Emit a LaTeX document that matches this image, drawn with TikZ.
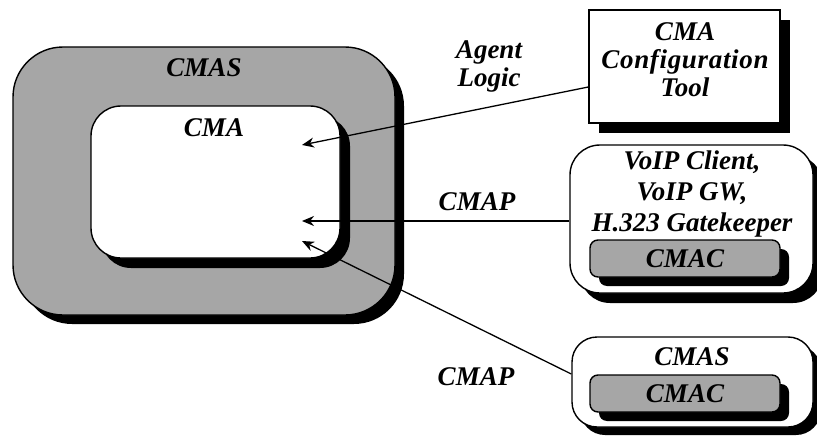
\documentclass[tikz,border=0pt]{standalone}
\usepackage{fontspec}
\setmainfont{Liberation Serif}
\usetikzlibrary{arrows.meta,shadows}
\definecolor{cmgray}{RGB}{166,166,166}
\begin{document}
\begin{tikzpicture}[x=1pt,y=-1pt,
  lbl/.style={font=\fontsize{27}{28}\selectfont\bfseries\itshape, inner sep=0pt, align=center},
  boxbase/.style={draw=black, line width=1.4pt, inner sep=0pt},
  shad/.style={drop shadow={shadow xshift=#1, shadow yshift=-#1, fill=black, opacity=1}},
  conn/.style={line width=1.3pt, -{Stealth[length=12pt,width=10pt]}}
]
\useasboundingbox (0,0) rectangle (817,436);

% outer CMAS
\node[boxbase, fill=cmgray, rounded corners=50pt, minimum width=382pt, minimum height=268pt, shad=9pt] (cmas) at (204,181) {};
% inner CMA
\node[boxbase, fill=white, rounded corners=30pt, minimum width=249pt, minimum height=152pt, shad=10pt] (cma) at (215.5,182) {};
\node[lbl] (cmasT) at (204,68) {CMAS};
\node[lbl] (cmaT) at (214,128) {CMA};

% config tool
\node[boxbase, fill=white, minimum width=191pt, minimum height=113pt, shad=10pt] (cfg) at (684.5,66.5) {};
\node[lbl] (cfgT) at (685,60) {CMA\\\addfontfeature{LetterSpace=2.5}Configuration\\Tool};

% VoIP box
\node[boxbase, fill=white, rounded corners=30pt, minimum width=243pt, minimum height=148pt, shad=10pt] (voip) at (691.5,219) {};
\node[lbl, font=\fontsize{27}{31}\selectfont\bfseries\itshape] (voipT) at (692,194) {VoIP Client,\\VoIP GW,\\H.323 Gatekeeper};
\node[boxbase, fill=cmgray, rounded corners=8pt, minimum width=190pt, minimum height=37pt, shad=9pt] (cmac1) at (685,258.5) {};
\node[lbl] (cmac1T) at (685,258.5) {CMAC};

% lower CMAS box
\node[boxbase, fill=white, rounded corners=25pt, minimum width=241pt, minimum height=90pt, shad=8pt] (cmas2) at (692.5,382) {};
\node[lbl] (cmas2T) at (692,357) {CMAS};
\node[boxbase, fill=cmgray, rounded corners=8pt, minimum width=190pt, minimum height=37pt, shad=9pt] (cmac2) at (685,393.5) {};
\node[lbl] (cmac2T) at (685,393.5) {CMAC};

% labels
\node[lbl] (agentT) at (489,66) {Agent\\Logic};
\node[lbl] (cmap1) at (477,202) {CMAP};
\node[lbl] (cmap2) at (476,377) {CMAP};

% connectors
\coordinate (t1) at (302,145);
\coordinate (t2) at (302,221);
\coordinate (t3) at (302,241);
\draw[conn] ([yshift=-20.5pt]cfg.west) -- (t1);
\draw[conn] ([yshift=-2pt]voip.west) -- (t2);
\draw[conn] ([yshift=8pt]cmas2.west) -- (t3);
\end{tikzpicture}
\end{document}
